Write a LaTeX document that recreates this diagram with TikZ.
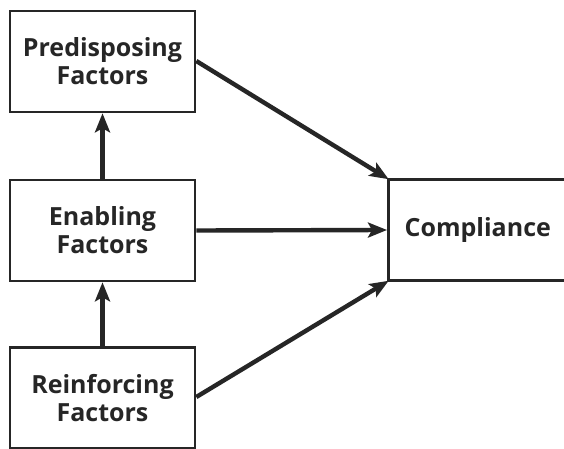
\documentclass[tikz,border=0pt]{standalone}
\usepackage{fontspec}
\setmainfont{Open Sans}
\usetikzlibrary{arrows.meta}
\begin{document}
\begin{tikzpicture}[x=1pt,y=-1pt,
  box/.style={draw=black!85,line width=2.6pt,minimum width=185pt,minimum height=101pt,inner sep=0pt,
    align=center,font=\fontsize{25}{28}\selectfont\bfseries,text=black!85},
  arr/.style={draw=black!85,line width=4.4pt,-{Stealth[length=19pt,width=15pt,inset=4pt]}}]
\useasboundingbox[fill=white] (0,0) rectangle (564,449);
\node[box] (pre) at (102.5,61.5) {Predisposing\\Factors};
\node[box] (ena) at (102.5,230.5) {Enabling\\Factors};
\node[box] (rei) at (102.5,398) {Reinforcing\\Factors};
\node[box,minimum width=181pt,anchor=west] (com) at (387,230) {\hspace*{-2pt}Compliance};
\draw[arr] (ena.north) -- (pre.south);
\draw[arr] (rei.north) -- (ena.south);
\draw[arr] (ena.east) -- (com.west);
\draw[arr,shorten >=-2pt] ([yshift=0.5pt]pre.east) -- (com.north west);
\draw[arr,shorten >=-2pt] ([yshift=1pt]rei.east) -- (com.south west);
\end{tikzpicture}
\end{document}
